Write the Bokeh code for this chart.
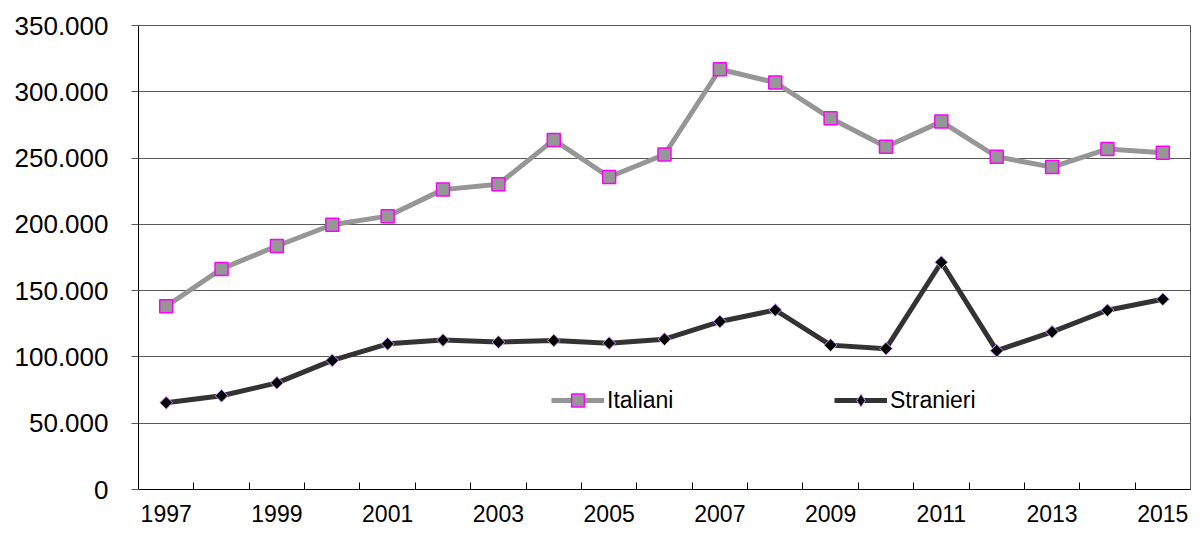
import math
from bokeh.plotting import figure
from bokeh.models import Range1d, FixedTicker, Legend, LegendItem
from bokeh.embed import file_html
from bokeh.resources import INLINE

years = list(range(1997, 2016))
italiani = [138200, 166400, 183700, 199700, 206200, 226200, 230200, 263700, 235700,
            252700, 317000, 307000, 280000, 258500, 277500, 251000, 243200, 256800, 254000]
stranieri = [65400, 70700, 80400, 97400, 109900, 112700, 111200, 112400, 110400,
             113400, 126700, 135400, 108900, 106200, 171400, 104700, 118900, 135200, 143500]
y_ticks = list(range(0, 350001, 50000))
x_label_years = [y for y in years if y % 2 == 1]

FONT = "Liberation Sans"

p = figure(width=1192, height=525, output_backend="svg", toolbar_location=None,
           x_range=Range1d(years[0] - 0.5, years[-1] + 0.5),
           y_range=Range1d(0, 350000),
           min_border_left=138, min_border_right=2, min_border_top=25, min_border_bottom=36)

p.background_fill_color = "white"
p.border_fill_color = "white"
p.outline_line_color = "#595959"
p.outline_line_width = 1

# x axis
p.xaxis.ticker = FixedTicker(ticks=x_label_years, minor_ticks=[y + 0.5 for y in years[:-1]])
p.xaxis.major_tick_in = 0
p.xaxis.major_tick_out = 0
p.xaxis.minor_tick_in = 7
p.xaxis.minor_tick_out = 0
p.xaxis.minor_tick_line_color = "black"
p.xaxis.axis_line_color = "black"
p.xaxis.major_label_text_font = FONT
p.xaxis.major_label_text_font_size = "23px"
p.xaxis.major_label_text_color = "black"
p.xaxis.major_label_standoff = 15
p.xgrid.grid_line_color = None

# y axis
p.yaxis.ticker = FixedTicker(ticks=y_ticks, minor_ticks=[])
p.yaxis.major_label_overrides = {v: f"{v:,}".replace(",", ".") for v in y_ticks}
p.yaxis.major_tick_in = 0
p.yaxis.major_tick_out = 7
p.yaxis.major_tick_line_color = "#595959"
p.yaxis.axis_line_color = "black"
p.yaxis.major_label_text_font = FONT
p.yaxis.major_label_text_font_size = "26px"
p.yaxis.major_label_text_color = "black"
p.yaxis.major_label_standoff = 23
p.ygrid.grid_line_color = "#595959"
p.ygrid.grid_line_width = 1

# series
l1 = p.line(years, italiani, line_color="#969696", line_width=5)
m1 = p.scatter(years, italiani, marker="square", size=13, fill_color="#969696",
               line_color="#FF00FF", line_width=1.5)
l2 = p.line(years, stranieri, line_color="#333333", line_width=5)
# diamond used for the legend symbol (hidden under the rotated squares in the plot)
m2_leg = p.scatter(years, stranieri, marker="diamond", size=10,
                   fill_color="black", line_color="#CC99FF", line_width=1)
m2 = p.scatter(years, stranieri, marker="square", angle=math.pi / 4, size=9,
               fill_color="black", line_color="#CC99FF", line_width=1)

def make_legend(label, renderers, loc):
    lg = Legend(items=[LegendItem(label=label, renderers=renderers)], location=loc,
                orientation="horizontal", glyph_width=53, glyph_height=32,
                label_height=32, label_standoff=3, padding=0, margin=0, spacing=0,
                label_text_font=FONT, label_text_font_size="23px",
                label_text_color="black", border_line_color=None,
                background_fill_alpha=0)
    p.add_layout(lg)

make_legend("Italiani", [l1, m1], (413, 73))
make_legend("Stranieri", [l2, m2_leg], (696, 73))

open("out.html", "w").write(file_html(p, INLINE))
